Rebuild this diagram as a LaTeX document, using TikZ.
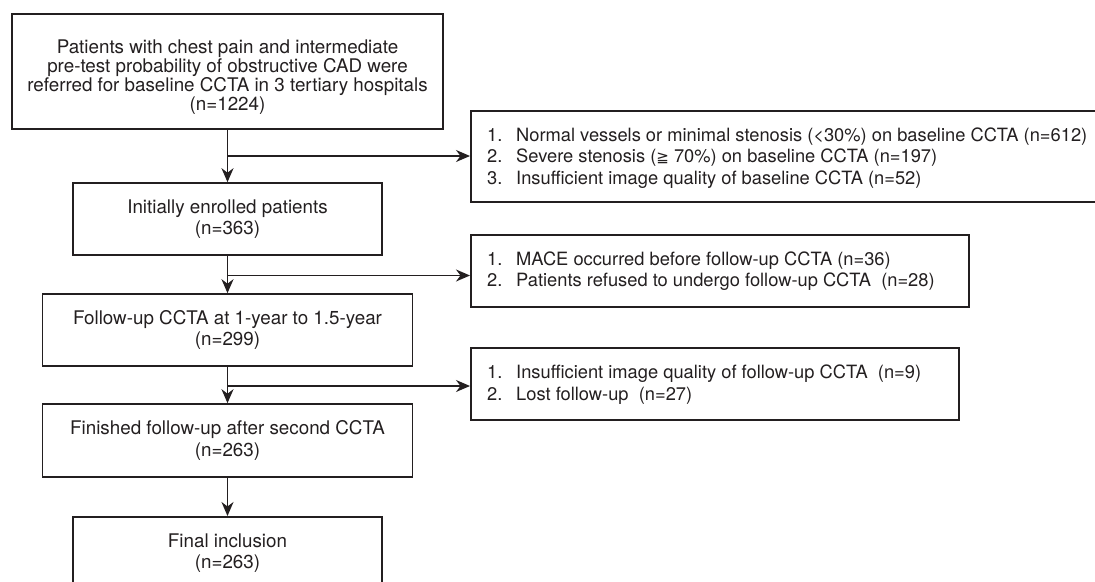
\documentclass[tikz,border=0pt]{standalone}
\usepackage{fontspec}
\setmainfont{TeX Gyre Heros}
\newfontfamily\symfnt{DejaVu Sans}
\usetikzlibrary{arrows.meta}
\definecolor{ink}{HTML}{231F20}
\begin{document}
\begin{tikzpicture}[x=1pt,y=-1pt,
  box/.style={draw=ink, line width=1.6pt, text=ink, align=center, inner sep=0pt,
    font=\fontsize{18.8}{21.5}\selectfont},
  listtxt/.style={text=ink, align=left, inner sep=0pt, anchor=west,
    font=\fontsize{18.3}{21.5}\selectfont},
  arr/.style={draw=ink, line width=1.5pt, -{Stealth[length=14pt,width=12pt,inset=4.5pt]}}]
\useasboundingbox (0,0) rectangle (1095,581);
\begin{scope}
\clip (0,0) rectangle (1095,581);
% main column
\node[box, minimum width=431pt, minimum height=115pt] (top) at (227.5,71.5) {};
\node[listtxt, anchor=center, align=center, font=\fontsize{18.8}{19.2}\selectfont] (topt) at (227.5,77)
  {Patients with chest pain and intermediate\\pre-test probability of obstructive CAD were\\referred for baseline CCTA in 3 tertiary hospitals\\(n=1224)};
\node[box, minimum width=309pt, minimum height=72pt] (enr) at (227.5,219) {Initially enrolled patients\\(n=363)};
\node[box, minimum width=370pt, minimum height=72pt] (fu) at (227.5,330) {Follow-up CCTA at 1-year to 1.5-year\\(n=299)};
\node[box, minimum width=370pt, minimum height=73pt] (fin) at (227.5,440.5) {Finished follow-up after second CCTA\\(n=263)};
\node[box, minimum width=309pt, minimum height=72pt, anchor=north] (incl) at (227.5,516) {};
\node[listtxt, anchor=center, align=center, font=\fontsize{18.8}{21.5}\selectfont] (inclt) at (227.5,553) {Final inclusion\\(n=263)};
% exclusion boxes
\node[box, minimum width=640pt, minimum height=91pt, anchor=west] (ex1) at (470,156.5) {};
\node[listtxt] (ex1t) at (487,158) {\makebox[29pt][l]{1.}Normal vessels or minimal stenosis (<30\%) on baseline CCTA (n=612)\\
  \makebox[29pt][l]{2.}Severe stenosis ({\symfnt\fontsize{15}{21}\selectfont ≧} 70\%) on baseline CCTA (n=197)\\
  \makebox[29pt][l]{3.}Insufficient image quality of baseline CCTA (n=52)};
\node[box, minimum width=498pt, minimum height=72pt, anchor=west] (ex2) at (470,271) {};
\node[listtxt] (ex2t) at (487,271) {\makebox[29pt][l]{1.}MACE occurred before follow-up CCTA (n=36)\\
  \makebox[29pt][l]{2.}Patients refused to undergo follow-up CCTA\ \ (n=28)};
\node[box, minimum width=488pt, minimum height=72pt, anchor=west] (ex3) at (470,384) {};
\node[listtxt] (ex3t) at (487,384.5) {\makebox[29pt][l]{1.}Insufficient image quality of follow-up CCTA\ \ (n=9)\\
  \makebox[29pt][l]{2.}Lost follow-up\ \ (n=27)};
% connectors
\coordinate (b1) at (227.5,156);
\coordinate (b2) at (227.5,275.5);
\coordinate (b3) at (227.5,386);
\draw[arr] (top.south) -- (enr.north);
\draw[arr] (b1) -- (b1 -| ex1.west);
\draw[arr] (enr.south) -- (fu.north);
\draw[arr] (b2) -- (b2 -| ex2.west);
\draw[arr] (fu.south) -- (fin.north);
\draw[arr] (b3) -- (b3 -| ex3.west);
\draw[arr] (fin.south) -- (incl.north);
\end{scope}
\end{tikzpicture}
\end{document}
